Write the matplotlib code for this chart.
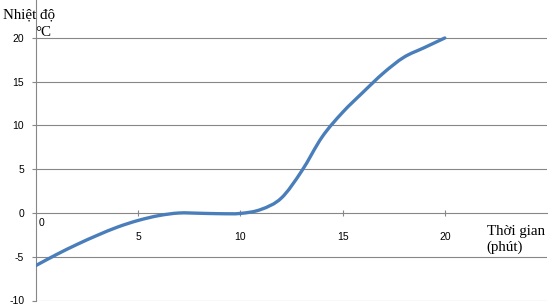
import numpy as np
import matplotlib
matplotlib.use("Agg")
import matplotlib.pyplot as plt
from matplotlib.path import Path
from matplotlib.patches import PathPatch
from matplotlib.transforms import ScaledTranslation

# time (minutes) and temperature (deg C)
minutes = [0, 1, 2, 3, 4, 5, 6, 7, 8, 9, 10, 11, 12, 13, 14, 15, 16, 17, 18, 19, 20]
temps = [-6, -4.75, -3.6, -2.55, -1.6, -0.85, -0.3, 0, -0.03, -0.08, -0.05,
         0.4, 1.7, 4.8, 8.7, 11.5, 13.8, 16.0, 17.8, 18.9, 20.0]

xticks = [5, 10, 15, 20]
yticks = [-10, -5, 0, 5, 10, 15, 20]

W, H = 551, 307
GRID = "#878787"
BLUE = "#4a7ebb"


def smooth_path(xs, ys):
    """Excel-style smoothed line: cubic bezier through every point."""
    pts = np.column_stack([xs, ys]).astype(float)
    ext = np.vstack([pts[0], pts, pts[-1]])
    verts = [pts[0]]
    codes = [Path.MOVETO]
    for i in range(len(pts) - 1):
        p0, p1, p2, p3 = ext[i], ext[i + 1], ext[i + 2], ext[i + 3]
        c1 = p1 + (p2 - p0) / 6.0
        c2 = p2 - (p3 - p1) / 6.0
        verts += [c1, c2, p2]
        codes += [Path.CURVE4] * 3
    return Path(verts, codes)


fig = plt.figure(figsize=(W / 100, H / 100), dpi=100)
ax = fig.add_axes([36 / W, 6.5 / H, 511 / W, 300.5 / H])
ax.set_xlim(0, 25)
ax.set_ylim(-10, 24.34)

for v in yticks:
    if v != 0:
        ax.axhline(v, color=GRID, lw=0.8, zorder=1)

for s in ["top", "right"]:
    ax.spines[s].set_visible(False)
ax.spines["left"].set_color(GRID)
ax.spines["left"].set_linewidth(0.8)
ax.spines["bottom"].set_position(("data", 0))
ax.spines["bottom"].set_color(GRID)
ax.spines["bottom"].set_linewidth(0.8)

ax.set_yticks(yticks)
ax.set_yticklabels([str(v) for v in yticks])
ax.tick_params(axis="y", direction="out", length=3, width=0.8, color=GRID,
               pad=5.5, labelsize=7.5)
ax.set_xticks(xticks)
ax.set_xticklabels([str(v) for v in xticks])
ax.tick_params(axis="x", direction="inout", length=4, width=0.8, color=GRID,
               pad=11.5, labelsize=7.5)
for lab in ax.get_xticklabels() + ax.get_yticklabels():
    lab.set_fontfamily(["Liberation Sans", "DejaVu Sans"])

# the "0" label sits just right of the origin
ax.text(0, 0, "0",
        transform=ax.transData + ScaledTranslation(3 / 100, -13.5 / 100, fig.dpi_scale_trans),
        fontsize=7.5, family=["Liberation Sans", "DejaVu Sans"], ha="left", va="baseline")

ax.add_patch(PathPatch(smooth_path(minutes, temps), facecolor="none",
                       edgecolor=BLUE, lw=2.4, capstyle="round", zorder=3))

serif = ["Liberation Serif", "DejaVu Serif"]
fig.text(3 / W, 1 - 18.3 / H, "Nhiệt độ", family=serif, fontsize=10.8,
         ha="left", va="baseline")
fig.text(35 / W, 1 - 36 / H, "°C", family=serif, fontsize=10.8,
         ha="left", va="baseline")
fig.text(487 / W, 1 - 234.5 / H, "Thời gian", family=serif, fontsize=10.8,
         ha="left", va="baseline")
fig.text(486 / W, 1 - 251 / H, "(phút)", family=serif, fontsize=10.8,
         ha="left", va="baseline")

fig.savefig("out.png", dpi=100)
